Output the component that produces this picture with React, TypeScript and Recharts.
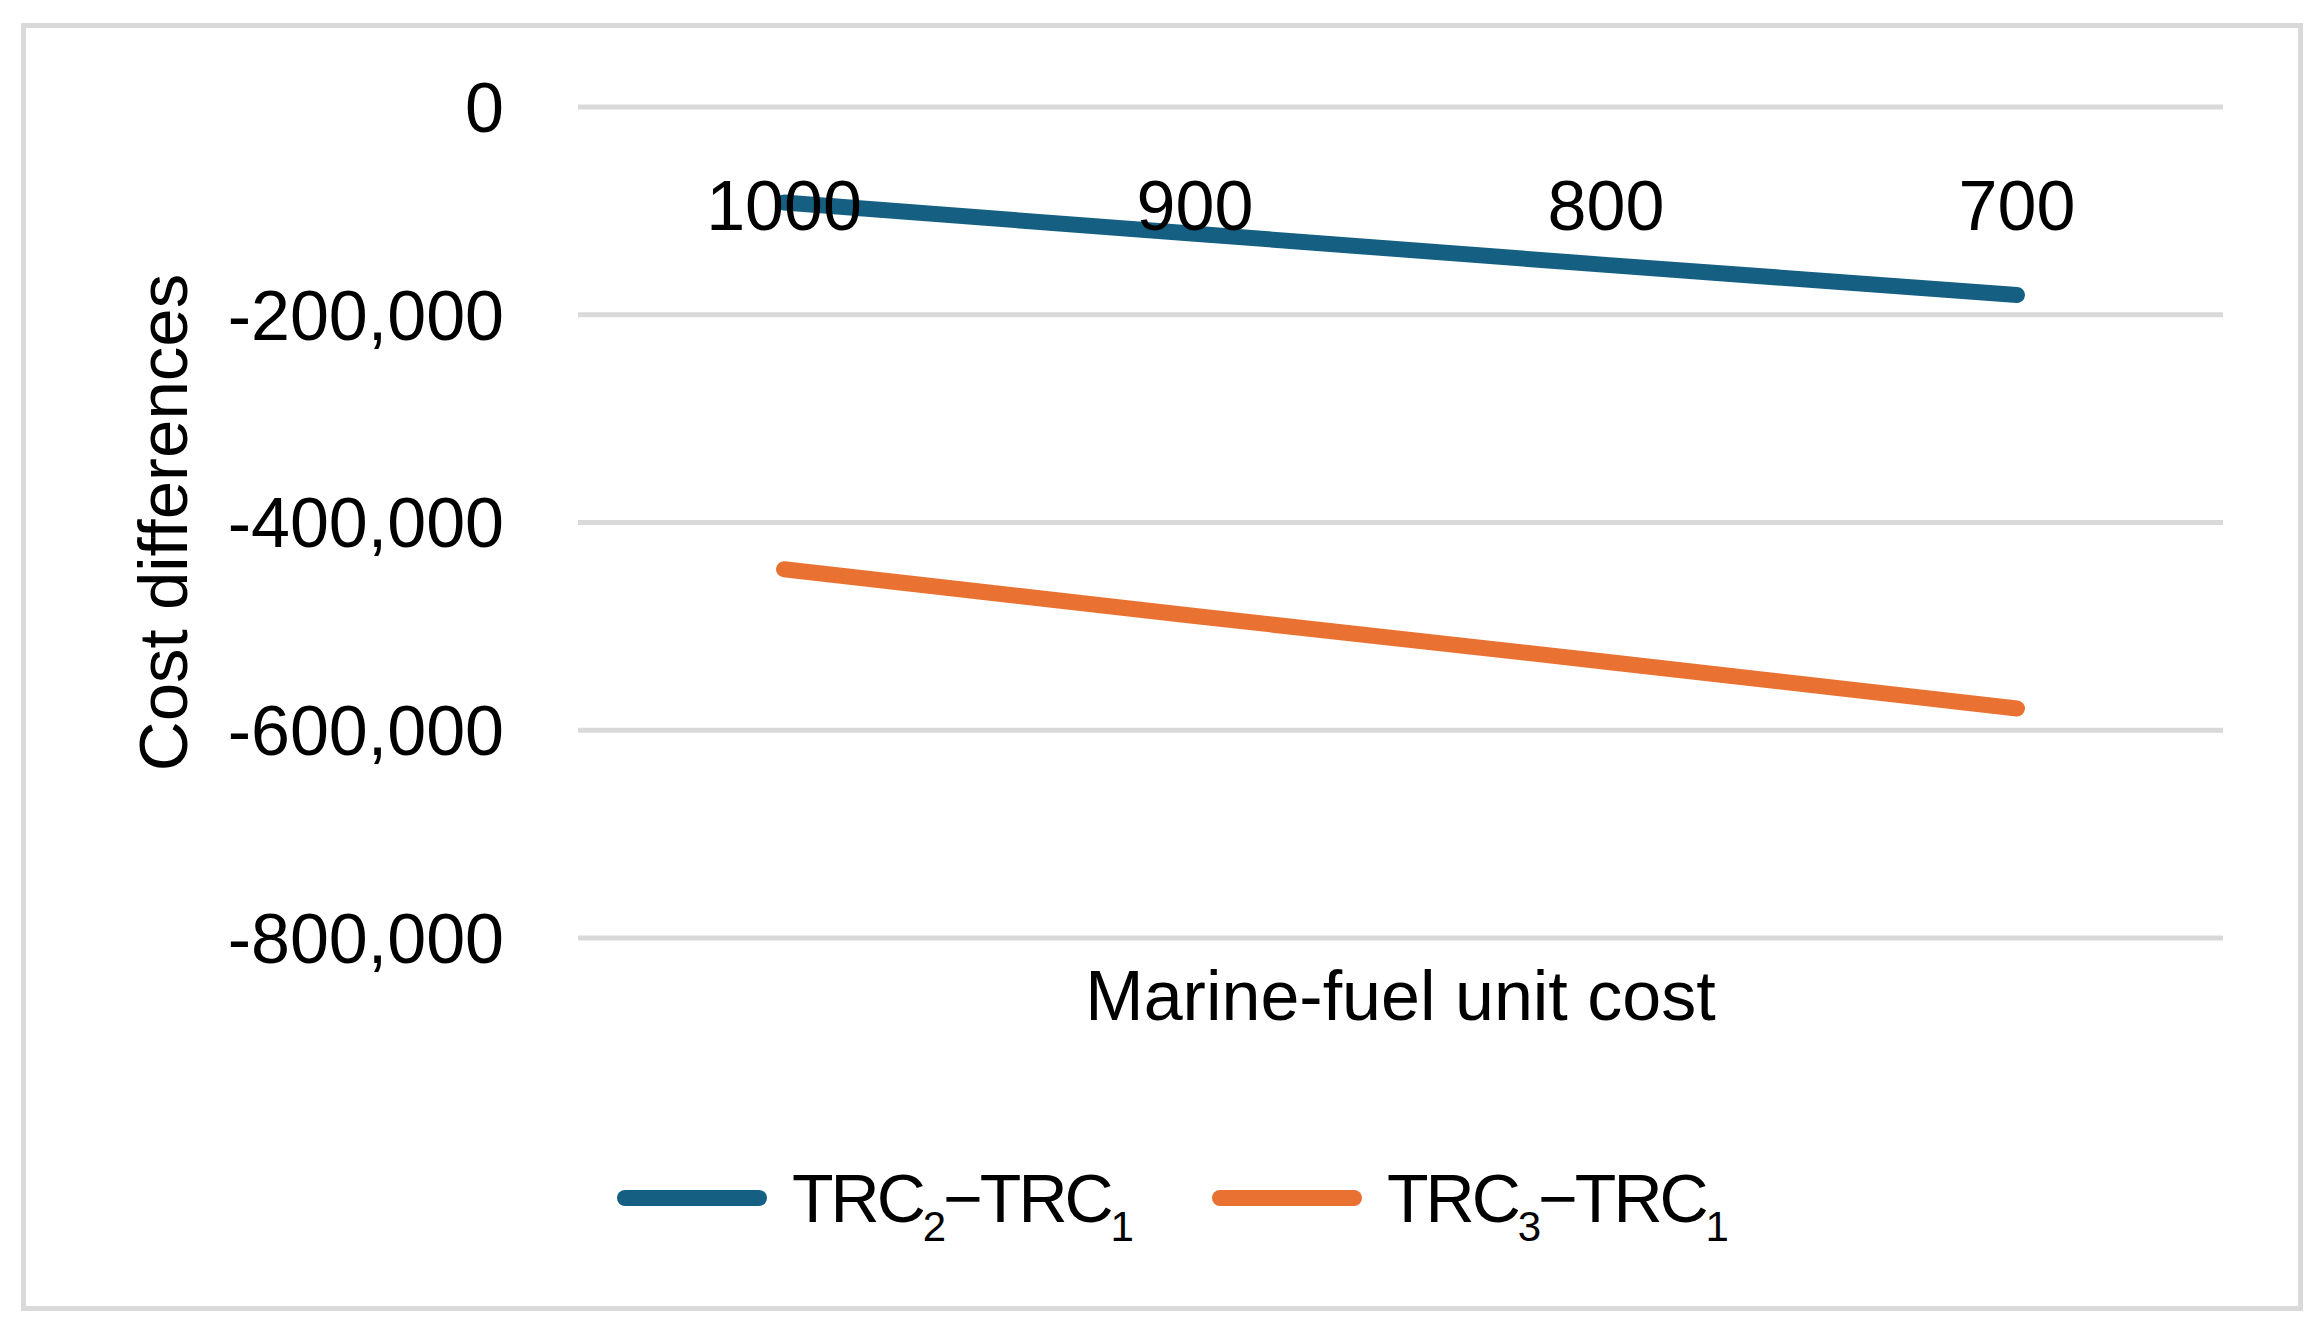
import React from 'react';
import { LineChart, Line, XAxis, YAxis, CartesianGrid, Legend } from 'recharts';

const FONT = '"Liberation Sans", Arial, sans-serif';

const CATEGORIES = ['1000', '900', '800', '700'];
const TRC2_MINUS_TRC1 = [-92000, -122000, -152000, -181000];
const TRC3_MINUS_TRC1 = [-445000, -490000, -534000, -579000];
const Y_TICKS = [0, -200000, -400000, -600000, -800000];

const SERIES = [
  { key: 'trc2', name: 'TRC2−TRC1', main: 'TRC', sub: '2', values: TRC2_MINUS_TRC1, color: '#156082' },
  { key: 'trc3', name: 'TRC3−TRC1', main: 'TRC', sub: '3', values: TRC3_MINUS_TRC1, color: '#E97132' },
];

const data = CATEGORIES.map((c, i) => {
  const row: Record<string, any> = { cost: c };
  SERIES.forEach((s) => {
    row[s.key] = s.values[i];
  });
  return row;
});

const TopTick = (props: any) => {
  const { x, y, payload } = props;
  return (
    <text x={x} y={y} dy={123} textAnchor="middle" fill="#000" fontSize={70} fontFamily={FONT}>
      {payload.value}
    </text>
  );
};

const LegendContent = (props: any) => {
  const payload = props.payload || [];
  return (
    <div
      style={{
        display: 'flex',
        alignItems: 'center',
        height: 100,
        paddingLeft: 617,
        fontFamily: FONT,
        fontSize: 68,
        letterSpacing: -3,
        color: '#000',
        boxSizing: 'border-box',
      }}
    >
      {payload.map((entry: any, i: number) => {
        const s = SERIES.find((x) => x.key === entry.dataKey) || SERIES[i];
        return (
          <div
            key={s.key}
            style={{ display: 'flex', alignItems: 'center', width: i === 0 ? 595 : 'auto', whiteSpace: 'nowrap' }}
          >
            <div style={{ width: 150, height: 16, borderRadius: 8, background: entry.color }} />
            <span style={{ marginLeft: 25, lineHeight: 1 }}>
              {s.main}
              <span style={{ fontSize: 42, position: 'relative', top: 19 }}>{s.sub}</span>
              {'−'}
              {s.main}
              <span style={{ fontSize: 42, position: 'relative', top: 19 }}>1</span>
            </span>
          </div>
        );
      })}
    </div>
  );
};

export default function App() {
  return (
    <div style={{ position: 'absolute', left: 0, top: 0, width: 2323, height: 1336, background: '#fff' }}>
      <div
        style={{
          position: 'absolute',
          left: 21,
          top: 23,
          width: 2282,
          height: 1288,
          border: '5px solid #D9D9D9',
          boxSizing: 'border-box',
        }}
      />
      <div style={{ position: 'absolute', left: 0, top: 0 }}>
        <LineChart width={2323} height={1336} data={data} margin={{ top: 67, right: 100, bottom: 88, left: 0 }}>
          <CartesianGrid vertical={false} stroke="#D9D9D9" strokeWidth={5} />
          <XAxis
            dataKey="cost"
            orientation="top"
            height={40}
            padding={{ left: 206, right: 206 }}
            axisLine={false}
            tickLine={false}
            tickSize={0}
            tickMargin={0}
            interval={0}
            tick={<TopTick />}
          />
          <XAxis
            xAxisId="title"
            dataKey="cost"
            orientation="bottom"
            height={210}
            axisLine={false}
            tickLine={false}
            tick={false}
            label={{
              value: 'Marine-fuel unit cost',
              position: 'insideTop',
              offset: 32,
              style: { fontSize: 70, fill: '#000', fontFamily: FONT },
            }}
          />
          <YAxis
            type="number"
            domain={[-800000, 0]}
            ticks={Y_TICKS}
            interval={0}
            width={578}
            axisLine={false}
            tickLine={false}
            tickSize={0}
            tickMargin={74}
            tick={{ fill: '#000', fontSize: 70, fontFamily: FONT }}
            tickFormatter={(v: number) => v.toLocaleString('en-US')}
            label={{
              value: 'Cost differences',
              angle: -90,
              position: 'insideLeft',
              offset: 163,
              style: { textAnchor: 'middle', fontSize: 69, fill: '#000', fontFamily: FONT },
            }}
          />
          {SERIES.map((s) => (
            <Line
              key={s.key}
              type="linear"
              dataKey={s.key}
              name={s.name}
              stroke={s.color}
              strokeWidth={16}
              strokeLinecap="round"
              dot={false}
              activeDot={false}
              isAnimationActive={false}
            />
          ))}
          <Legend
            verticalAlign="bottom"
            height={100}
            wrapperStyle={{ left: 0, width: 2323, bottom: 88 }}
            content={<LegendContent />}
          />
        </LineChart>
      </div>
    </div>
  );
}
